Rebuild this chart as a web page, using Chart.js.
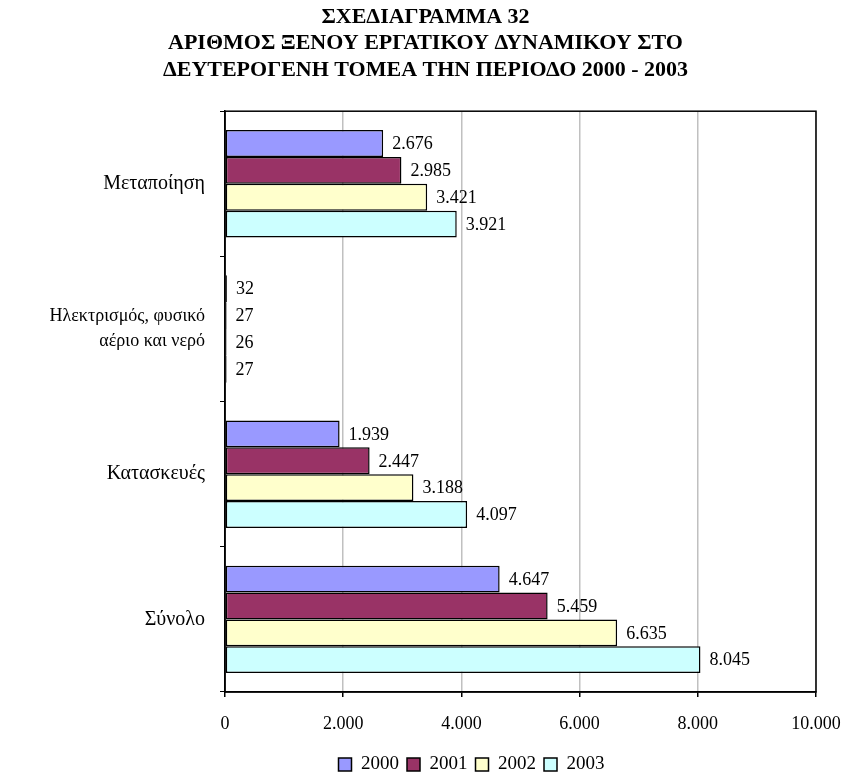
<!DOCTYPE html>
<html lang="el">
<head>
<meta charset="utf-8">
<title>Σχεδιάγραμμα 32</title>
<script src="https://cdn.jsdelivr.net/npm/chart.js@4.4.1/dist/chart.umd.min.js"></script>
<style>
  html, body { margin:0; padding:0; background:#fff; }
  #wrap { width:851px; height:774px; position:relative; }
</style>
</head>
<body>
<div id="wrap"><canvas id="chart" width="851" height="774"></canvas></div>
<script>
// ── Data ─────────────────────────────────────────────────
const categories = ['Μεταποίηση', ['Ηλεκτρισμός, φυσικό', 'αέριο και νερό'], 'Κατασκευές', 'Σύνολο'];
const years = ['2000', '2001', '2002', '2003'];
const values2000 = [2676, 32, 1939, 4647];
const values2001 = [2985, 27, 2447, 5459];
const values2002 = [3421, 26, 3188, 6635];
const values2003 = [3921, 27, 4097, 8045];
const xTicks = [0, 2000, 4000, 6000, 8000, 10000];

const colors = ['#9999ff', '#993366', '#ffffcc', '#ccffff'];
const FONT = '"Liberation Serif", "Times New Roman", serif';

// 2676 -> 2.676
const fmt = v => String(v).replace(/\B(?=(\d{3})+(?!\d))/g, '.');

// ── Plugins ──────────────────────────────────────────────
const valueLabels = {
  id: 'valueLabels',
  afterDatasetsDraw(chart) {
    const { ctx } = chart;
    ctx.save();
    ctx.font = `18px ${FONT}`;
    ctx.fillStyle = '#000';
    ctx.textBaseline = 'middle';
    ctx.textAlign = 'left';
    chart.data.datasets.forEach((ds, i) => {
      chart.getDatasetMeta(i).data.forEach((bar, j) => {
        ctx.fillText(fmt(ds.data[j]), bar.x + 9, bar.y + 1);
      });
    });
    ctx.restore();
  }
};

const plotFrame = {
  id: 'plotFrame',
  afterDraw(chart) {
    const { ctx, chartArea: a } = chart;
    ctx.save();
    ctx.strokeStyle = '#000';
    ctx.lineWidth = 1.5;
    ctx.strokeRect(a.left, a.top, a.right - a.left, a.bottom - a.top);
    ctx.restore();
  }
};

// legend sits a bit right of centre in the original
const legendShift = {
  id: 'legendShift',
  afterLayout(chart) {
    if (chart.legend) {
      chart.legend.left += 46;
      chart.legend.right += 46;
    }
  }
};

// ── Chart ────────────────────────────────────────────────
const seriesValues = [values2000, values2001, values2002, values2003];

new Chart(document.getElementById('chart'), {
  type: 'bar',
  data: {
    labels: categories,
    datasets: years.map((y, i) => ({
      label: y,
      data: seriesValues[i],
      backgroundColor: colors[i],
      borderColor: '#000',
      borderWidth: 1.5,
      borderSkipped: false,
      categoryPercentage: 0.74,
      barPercentage: 1.0,
    }))
  },
  options: {
    indexAxis: 'y',
    responsive: false,
    animation: false,
    layout: { padding: { left: 20, right: 20, top: 0, bottom: -10 } },
    plugins: {
      title: {
        display: true,
        text: ['ΣΧΕΔΙΑΓΡΑΜΜΑ 32', 'ΑΡΙΘΜΟΣ ΞΕΝΟΥ ΕΡΓΑΤΙΚΟΥ ΔΥΝΑΜΙΚΟΥ ΣΤΟ', 'ΔΕΥΤΕΡΟΓΕΝΗ ΤΟΜΕΑ ΤΗΝ ΠΕΡΙΟΔΟ 2000 - 2003'],
        color: '#000',
        font: { family: FONT, size: 22, weight: 'bold', lineHeight: 1.2 },
        padding: { top: 4, bottom: 28 },
      },
      legend: {
        position: 'bottom',
        labels: {
          color: '#000',
          font: { family: FONT, size: 19 },
          boxWidth: 13,
          boxHeight: 13,
          padding: 8,
        }
      },
      tooltip: { enabled: false },
    },
    scales: {
      x: {
        min: 0,
        max: 10000,
        afterBuildTicks: scale => { scale.ticks = xTicks.map(v => ({ value: v })); },
        afterFit: scale => { scale.height = 55; scale.paddingRight = 35; },
        grid: { color: '#c0c0c0', lineWidth: 1.5, tickColor: '#000', tickLength: 5 },
        border: { color: '#000', width: 1.5 },
        ticks: {
          color: '#000',
          font: { family: FONT, size: 18 },
          padding: 16,
          maxRotation: 0,
          callback: v => fmt(v),
        }
      },
      y: {
        afterFit: scale => { scale.width = 205; },
        grid: { offset: true, drawOnChartArea: false, color: '#000', tickLength: 5 },
        border: { color: '#000', width: 1.5 },
        ticks: {
          color: '#000',
          // the two-line label is set tighter than the others in the original
          font: c => ({ family: FONT, size: c.index === 1 ? 18 : 20, lineHeight: c.index === 1 ? 1.4 : 1.2 }),
          padding: 15,
        }
      }
    }
  },
  plugins: [valueLabels, plotFrame, legendShift]
});
</script>
</body>
</html>
